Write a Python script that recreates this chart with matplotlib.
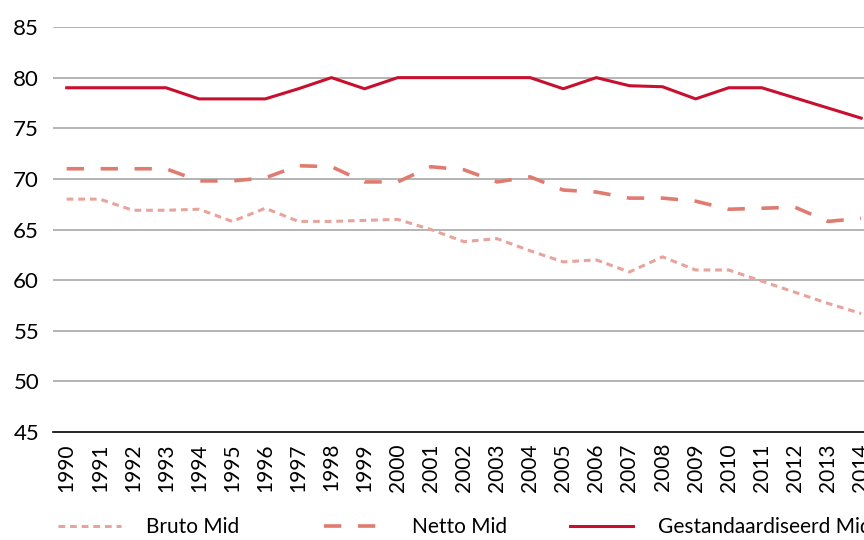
import matplotlib
matplotlib.use("Agg")
import matplotlib.pyplot as plt

plt.rcParams['font.family'] = ['Lato', 'DejaVu Sans']

# data
years = list(range(1990, 2015))
bruto = [68.0, 68.0, 66.9, 66.9, 67.0, 65.8, 67.1, 65.8, 65.8, 65.9, 66.0, 65.0, 63.8,
         64.1, 62.9, 61.8, 62.0, 60.8, 62.3, 61.0, 61.0, 59.9, 58.8, 57.7, 56.7]
netto = [71.0, 71.0, 71.0, 71.0, 69.8, 69.8, 70.1, 71.3, 71.2, 69.7, 69.7, 71.2, 70.9,
         69.7, 70.2, 68.9, 68.7, 68.1, 68.1, 67.8, 67.0, 67.1, 67.2, 65.8, 66.1]
gestand = [79.0, 79.0, 79.0, 79.0, 77.9, 77.9, 77.9, 78.9, 80.0, 78.9, 80.0, 80.0, 80.0,
           80.0, 80.0, 78.9, 80.0, 79.2, 79.1, 77.9, 79.0, 79.0, 78.0, 77.0, 76.0]
labels = ['Bruto Mid', 'Netto Mid', 'Gestandaardiseerd Mid']
yticks = [45, 50, 55, 60, 65, 70, 75, 80, 85]

fig = plt.figure(figsize=(8.64, 5.4), dpi=100)
ax = fig.add_axes([0.0613, 0.2, 0.9387, 0.75])

l1, = ax.plot(years, bruto, color='#E8A39B', lw=2.2, linestyle=(0, (2.2, 1.6)),
              solid_capstyle='butt', dash_capstyle='butt')
l2, = ax.plot(years, netto, color='#E07B70', lw=2.6, linestyle=(0, (4.8, 4.6)),
              dash_capstyle='butt')
l3, = ax.plot(years, gestand, color='#C8102E', lw=2.2)

ax.set_ylim(45, 85)
ax.set_xlim(1989.586, 2014.087)
ax.set_yticks(yticks)
ax.set_xticks(years)
ax.set_xticklabels([str(y) for y in years], rotation=90, fontsize=15)
ax.tick_params(axis='y', labelsize=16, length=0, pad=10)
ax.tick_params(axis='x', length=0, pad=8)

for y in yticks[1:]:
    ax.axhline(y, color='#A8A8A8', lw=1.2, zorder=0)
for s in ['top', 'right', 'left']:
    ax.spines[s].set_visible(False)
ax.spines['bottom'].set_color('black')
ax.spines['bottom'].set_linewidth(1.2)

# legend entries placed separately like the reference
xs = [58, 324, 570]
for h, lab, x in zip([l1, l2, l3], labels, xs):
    lg = fig.legend(handles=[h], labels=[lab], loc='center left',
                    bbox_to_anchor=(x / 864, 1 - 527 / 540), frameon=False,
                    fontsize=15, handlelength=3.0, handletextpad=1.2,
                    borderpad=0, borderaxespad=0)

fig.savefig('out.png', dpi=100)
